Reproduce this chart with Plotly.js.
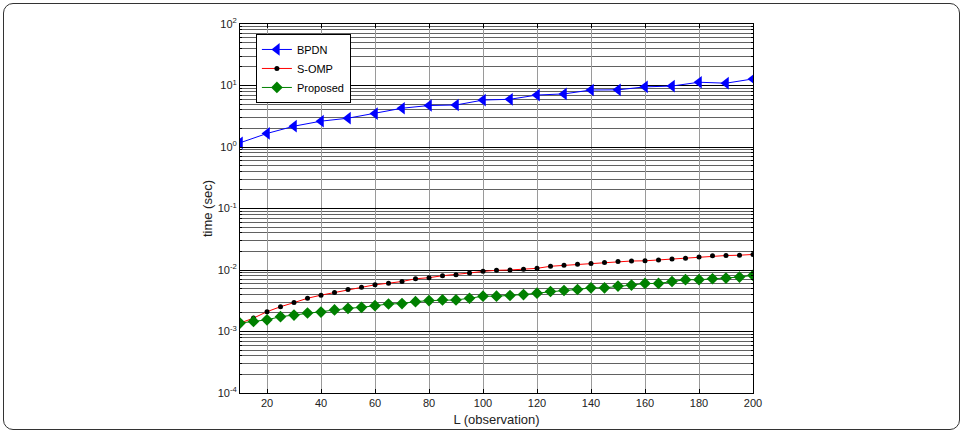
<!DOCTYPE html>
<html>
<head>
<meta charset="utf-8">
<script src="https://cdn.plot.ly/plotly-3.0.1.min.js"></script>
<style>
  html, body { margin: 0; padding: 0; background: #fff; }
  #chart { width: 965px; height: 434px; }
  #frame { position: absolute; left: 3px; top: 3px; width: 955px; height: 425px;
           border: 1.5px solid #333; border-radius: 10px; pointer-events: none; }
</style>
</head>
<body>
<div id="chart"></div>
<div id="frame"></div>
<script>
// Observation counts
const xBPDN = [10, 20, 30, 40, 50, 60, 70, 80, 90, 100, 110, 120, 130, 140, 150, 160, 170, 180, 190, 200];
const xFine = [10, 15, 20, 25, 30, 35, 40, 45, 50, 55, 60, 65, 70, 75, 80, 85, 90, 95, 100, 105,
               110, 115, 120, 125, 130, 135, 140, 145, 150, 155, 160, 165, 170, 175, 180, 185, 190, 195, 200];

// Time (sec)
const timeBPDN = [1.17, 1.66, 2.18, 2.63, 2.94, 3.5, 4.27, 4.73, 4.82, 5.8,
                  5.97, 7.0, 7.3, 8.45, 8.5, 9.5, 9.8, 11.3, 10.9, 12.8];
const timeSOMP = [1.37e-3, 1.65e-3, 2.1e-3, 2.53e-3, 2.95e-3, 3.47e-3, 3.9e-3, 4.3e-3, 4.8e-3, 5.26e-3,
                  5.75e-3, 6.1e-3, 6.5e-3, 7.2e-3, 7.5e-3, 8.07e-3, 8.4e-3, 8.93e-3, 9.5e-3, 9.9e-3,
                  1.0e-2, 1.025e-2, 1.065e-2, 1.15e-2, 1.19e-2, 1.24e-2, 1.27e-2, 1.32e-2, 1.37e-2, 1.4e-2,
                  1.41e-2, 1.46e-2, 1.51e-2, 1.55e-2, 1.63e-2, 1.7e-2, 1.72e-2, 1.74e-2, 1.79e-2];
const timeProposed = [1.37e-3, 1.46e-3, 1.55e-3, 1.74e-3, 1.85e-3, 2.0e-3, 2.07e-3, 2.24e-3, 2.38e-3, 2.47e-3,
                      2.63e-3, 2.8e-3, 2.84e-3, 3.06e-3, 3.18e-3, 3.26e-3, 3.26e-3, 3.47e-3, 3.75e-3, 3.75e-3,
                      3.85e-3, 3.99e-3, 4.2e-3, 4.47e-3, 4.64e-3, 4.82e-3, 5.13e-3, 5.13e-3, 5.47e-3, 5.68e-3,
                      6.04e-3, 6.04e-3, 6.5e-3, 6.95e-3, 6.95e-3, 7.2e-3, 7.4e-3, 7.68e-3, 8.18e-3];

const xTicks = [20, 40, 60, 80, 100, 120, 140, 160, 180, 200];
const yExponents = [-4, -3, -2, -1, 0, 1, 2];
const yTickVals = yExponents.map(e => Math.pow(10, e));
const yTickText = yExponents.map(e => '10<sup>' + e + '</sup>');
const minorDigits = [2, 3, 4, 5, 6, 7, 8, 9];
const yMinorVals = [];
yExponents.slice(0, -1).forEach(e => minorDigits.forEach(d => yMinorVals.push(d * Math.pow(10, e))));
const seriesNames = ['BPDN', 'S-OMP', 'Proposed'];

const font = 'Liberation Sans, Arial, Helvetica, sans-serif';

const traces = [
  { x: xBPDN, y: timeBPDN, name: seriesNames[0], type: 'scatter', mode: 'lines+markers',
    line: { color: '#0000ff', width: 1 },
    marker: { symbol: 'triangle-left', size: 11, color: '#0000ff' } },
  { x: xFine, y: timeSOMP, name: seriesNames[1], type: 'scatter', mode: 'lines+markers',
    line: { color: '#ff0000', width: 1 },
    marker: { symbol: 'circle', size: 5, color: '#000000' } },
  { x: xFine, y: timeProposed, name: seriesNames[2], type: 'scatter', mode: 'lines+markers',
    line: { color: '#008000', width: 1 },
    marker: { symbol: 'diamond', size: 9, color: '#008000' } }
];

const layout = {
  width: 965, height: 434,
  margin: { l: 240, r: 212, t: 24, b: 41, pad: 0 },
  paper_bgcolor: '#ffffff', plot_bgcolor: '#ffffff',
  font: { family: font, size: 11, color: '#000' },
  showlegend: true,
  legend: {
    x: 0.031, y: 0.973, xanchor: 'left', yanchor: 'top',
    bgcolor: '#ffffff', bordercolor: '#000', borderwidth: 1,
    font: { family: font, size: 11, color: '#000' },
    tracegroupgap: 0, itemwidth: 30
  },
  xaxis: {
    range: [10, 200], tickvals: xTicks, ticktext: xTicks.map(String),
    showgrid: true, gridcolor: '#9a9a9a', gridwidth: 1,
    zeroline: false, showline: true, linecolor: '#000', linewidth: 1, mirror: 'ticks',
    ticks: 'inside', ticklen: 4, tickcolor: '#000',
    tickfont: { family: font, size: 11, color: '#222' },
    title: { text: 'L (observation)', font: { family: font, size: 13, color: '#222' }, standoff: 6 }
  },
  yaxis: {
    type: 'log', range: [-4, 2],
    tickmode: 'array', tickvals: yTickVals, ticktext: yTickText,
    showgrid: true, gridcolor: '#000', gridwidth: 1,
    minor: { tickmode: 'array', tickvals: yMinorVals, showgrid: true, gridcolor: '#3a3a3a', gridwidth: 0.8,
             ticks: 'inside', ticklen: 2, tickcolor: '#000' },
    zeroline: false, showline: true, linecolor: '#000', linewidth: 1, mirror: 'ticks',
    ticks: 'inside', ticklen: 4, tickcolor: '#000',
    tickfont: { family: font, size: 11, color: '#222' },
    title: { text: 'time (sec)', font: { family: font, size: 13, color: '#222' }, standoff: 2 }
  }
};

Plotly.newPlot('chart', traces, layout, { displayModeBar: false, staticPlot: true });
</script>
</body>
</html>
